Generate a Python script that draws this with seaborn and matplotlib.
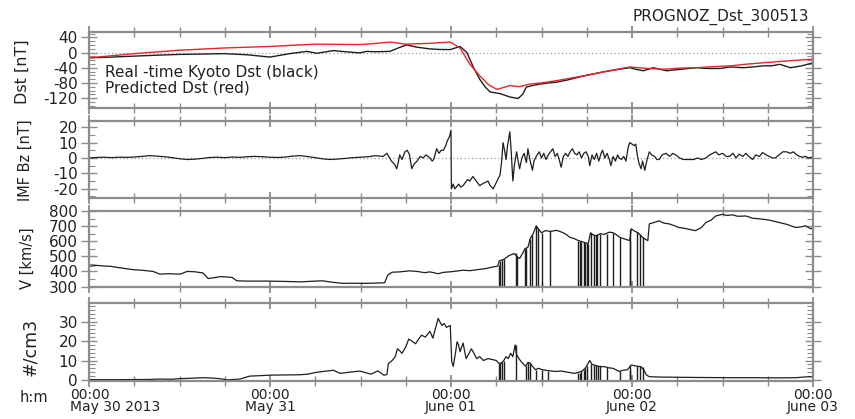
import numpy as np
import pandas as pd
import matplotlib
matplotlib.use("Agg")
import matplotlib.pyplot as plt
from matplotlib.ticker import MultipleLocator, FixedLocator
import matplotlib.transforms as mtransforms
import seaborn as sns

sns.set_style("ticks")
plt.rcParams['font.family'] = ['DejaVu Sans']
plt.rcParams['axes.unicode_minus'] = False

# ---------------- data (hours since 2013-05-30 00:00) ----------------
dst_obs_t = [0, 3, 6, 9, 12, 15, 18, 21, 24, 26.6, 28.9, 30.2, 32.4, 34, 35.9, 36.8, 38, 39.9, 41,
             42.1, 43.5, 45.2, 46.5, 47.9, 49.2, 50.1, 51, 51.8, 52.5, 53.2, 54.5, 55.8, 56.9, 57.5,
             58, 59, 59.8, 61, 62, 63.5, 65.1, 66.5, 68.2, 70, 71.7, 72.5, 73.5, 74.8, 76.6, 78.5,
             80.6, 82, 83.7, 85, 86.8, 88, 89.4, 90.5, 91.6, 93, 94.5, 96]
dst_obs = [-14, -12, -9.5, -7, -5, -4, -3, -6, -12, -3, 3, -2, 5, 2, -1, 3, 2, 3, 12,
           20, 14, 9.5, 8, 7.7, 16, 0, -40, -70, -90, -104, -108, -117, -121, -110,
           -91, -86, -83, -80, -78, -72, -64, -58, -51, -45, -40, -44, -48, -40, -48, -44,
           -40, -42, -42, -38, -40, -38, -35, -35, -31, -40, -35, -27]

dst_pred_t = [0, 6, 12, 18, 24, 30, 36, 38, 40, 42, 45, 47.9, 49.2, 50.5, 51.8, 53, 54.1, 55.8,
              57, 58.5, 60, 62, 65.1, 68.2, 71.7, 74, 76.2, 78.5, 80.6, 83, 85.1, 87, 89.4, 92,
              95.6, 96]
dst_pred = [-14, -3, 6, 12, 16, 22, 21, 24, 27.5, 22, 24, 27.5, 12, -31, -61, -85, -97, -87,
            -90, -83, -80, -74, -63, -51, -38, -42, -44, -41, -40, -37, -35, -31, -27, -23,
            -18, -17]

bz_t = [0, 1, 2, 3, 4, 5, 6, 7, 8, 9, 10, 11, 12, 13, 14, 15, 16, 17, 18, 19, 20, 21, 22, 23,
        24, 25, 26, 27, 28, 29, 30, 31, 32, 33, 34, 35, 36, 37, 38, 39,
        39.5, 40.1, 40.5, 40.8, 41.0, 41.2, 41.5, 41.9, 42.2, 42.5, 42.8, 43.1, 43.5, 43.9, 44.3,
        44.7, 45.2, 45.5, 45.7, 46.1, 46.4, 46.7, 47.0, 47.3, 47.5, 47.8, 48.0, 48.05, 48.3, 48.5,
        48.7, 49.0, 49.3, 49.6, 49.9, 50.2, 50.5, 50.9, 51.2, 51.5, 51.8, 52.1, 52.5, 52.9, 53.2,
        53.6, 53.9, 54.2, 54.5, 54.7, 54.9, 55.1, 55.3, 55.5, 55.8, 56.0, 56.2, 56.4, 56.7, 56.9,
        57.1, 57.4, 57.7, 58.0, 58.2, 58.5, 58.8, 59.0, 59.3, 59.7, 60.0, 60.3, 60.6, 60.9, 61.2,
        61.5, 61.8, 62.1, 62.4, 62.6, 62.9, 63.2, 63.5, 63.8, 64.1, 64.4, 64.7, 65.0, 65.3, 65.6,
        65.9, 66.2, 66.4, 66.7, 67.0, 67.3, 67.6, 67.9, 68.1, 68.4, 68.7, 69.0, 69.2, 69.5, 69.8,
        70.1, 70.3, 70.6, 70.9, 71.2, 71.5, 71.7, 72.0, 72.3, 72.5, 72.7, 72.9, 73.2, 73.4, 73.7,
        74.0, 74.3, 74.6, 75.0, 75.3, 75.6, 76.0, 76.5, 77.0, 77.4, 77.8, 78.3, 78.8, 79.2, 79.6,
        80.2, 80.7, 81.2, 81.8, 82.3, 82.7, 83.1, 83.5, 84.0, 84.5, 84.9, 85.4, 85.8, 86.2, 86.7,
        87.1, 87.5, 88.0, 88.4, 88.9, 89.3, 89.8, 90.2, 90.6, 91.0, 91.5, 92.0, 92.5, 93.0, 93.4,
        93.7, 94.2, 94.6, 95.0, 95.4, 95.7, 96]
bz = [0, 0.3, 0.5, 0.2, 0.5, 0.4, 0.6, 1.0, 1.5, 1.2, 0.8, 0.2, -0.5, -1.0, -0.8, -0.3, 0.3, 0.5,
      0.2, 0.6, 0.4, 0.8, 1.0, 0.8, 0.5, 0.3, 0.6, 1.2, 1.5, 0.9, 0.2, -0.6, -1.0, -0.7, -0.3,
      0.2, 0.5, 0.8, 1.5, 1.0,
      3, -2, -4, -7, -3, 2, -1, 4, 5, 2, -7, -4, -2, 1, 0,
      2, 0, -2, -1, 6, 3, 5, 5, 8, 11, 14, 18, -20, -17, -20,
      -19, -17, -19, -18, -16, -14, -15, -12, -14, -16, -18, -17, -16, -15, -18,
      -20, -17, -14, -11, -3, 10, 5, -1, 8, 17, 3, -15, -5, 4, -2,
      -7, 0, 3, -3, 6, -2, -8, -2, 1, 4, 0, 3, -1, 2, 4,
      6, 1, 3, -2, -6, 1, 3, 1, 4, 6, 3, 2, 4, 0, 3,
      4, 1, -5, 2, -1, 3, -2, 3, 5, 0, 3, -1, -5, 1, -2,
      2, 0, -1, 1, -2, 7, 10, 9, 8, 9, 2, -3, -7, -2, -8,
      -1, 4, 2, 1, -1, -1, 2, 3, 1, 3, 2, 0, -1, -1, -1,
      -1, 0, -1, 0, 2, 3, 4, 2, 3, 1, 1, 3, 0, 2.5, 1,
      3, 1, -1, 2, 1, 3.5, 2, 1, 0, 0, 2, 4, 4, 3, 4,
      2.5, 1, 0.5, 1, 0, 0.5, -0.5]

v_t = [0, 1, 2, 2.8, 4, 5.8, 7, 8.5, 9.4, 10.5, 12.1, 13, 14, 15.1, 15.8, 16.5, 17.5, 18.3, 19.0,
       19.6, 21, 23.6, 26, 28, 30, 31, 32, 33.7, 35, 36.8, 38, 39.2, 39.6, 40.2, 41.2, 42.5, 43.5,
       44.5, 45.2, 46.3, 47, 48, 49, 49.6, 50.5, 51.5, 52.5, 53.6, 54.2, 54.4, 55, 55.7, 56.4,
       56.8, 57.1, 57.5, 57.8, 58.2, 58.5, 58.9, 59.3, 59.6, 60.0, 60.5, 61.2, 62, 62.9, 63.4,
       63.8, 64.3, 64.9, 65.5, 66.2, 66.5, 66.9, 67.3, 67.8, 68.3, 69, 69.5, 70, 70.4, 71.0,
       71.7, 71.9, 72.4, 72.8, 73.4, 74.1, 74.3, 75, 75.6, 76.2, 76.9, 77.5, 78.2, 79, 80.4,
       81.2, 81.8, 82.5, 83.1, 84.0, 84.6, 85.3, 86, 87.1, 88, 89.3, 90.2, 91.5, 92.5, 93.7,
       94.4, 95, 95.7, 96]
v = [434, 440, 436, 434, 425, 412, 408, 400, 382, 385, 382, 400, 398, 390, 353, 358, 366, 363,
     360, 338, 336, 336, 334, 331, 336, 338, 330, 321, 322, 321, 323, 325, 375, 395, 397, 404,
     400, 392, 397, 385, 394, 398, 404, 408, 405, 412, 418, 430, 435, 470, 480, 505, 519, 495,
     486, 520, 550, 560, 617, 650, 702, 680, 656, 670, 665, 672, 656, 640, 625, 618, 604, 595,
     584, 656, 640, 637, 650, 645, 660, 656, 640, 625, 615, 604, 682, 665, 656, 625, 604, 715,
     725, 735, 720, 715, 705, 691, 685, 670, 690, 724, 740, 767, 778, 770, 775, 765, 767, 752,
     746, 740, 724, 712, 691, 695, 702, 682, 690]

v_drop_t = [54.3, 54.5, 54.7, 55.0, 56.6, 56.8, 57.8, 58.0, 58.5, 58.7, 59.3, 59.5, 60.0, 61.1,
            64.9, 65.1, 65.3, 65.6, 65.8, 66.0, 66.2, 66.6, 66.9, 67.2, 67.4, 67.8, 68.7, 69.5,
            70.4, 71.7, 71.8, 72.6, 73.1, 73.4]
v_drop_top = [440, 470, 475, 480, 520, 500, 550, 555, 617, 640, 702, 690, 656, 668, 604, 600,
              598, 592, 590, 588, 584, 656, 640, 638, 645, 650, 648, 656, 625, 604, 682, 660,
              650, 625]

n_t = [0, 4, 8, 9.4, 11, 12, 13.5, 15.1, 16.5, 17.5, 18.3, 19.2, 20, 21.3, 22.5, 24, 26, 28, 29,
       30.2, 31.5, 32.4, 33.3, 34.5, 35.9, 37.4, 38.3, 39.1, 39.5, 39.7, 40.2, 40.6, 40.9, 41.2,
       41.5, 42.0, 42.4, 42.8, 43.3, 43.7, 44.1, 44.6, 45.2, 45.6, 45.9, 46.3, 46.5, 46.8, 47.1,
       47.4, 47.9, 48.1, 48.3, 48.6, 48.8, 49.0, 49.2, 49.6, 50.0, 50.3, 50.7, 51.0, 51.4, 51.8,
       52.3, 52.9, 53.5, 54.0, 54.5, 55.0, 55.3, 55.6, 55.9, 56.2, 56.5, 56.7, 57.0, 57.4, 57.9,
       58.2, 58.5, 58.8, 59.2, 59.6, 60.1, 60.9, 61.8, 62.6, 63.5, 64.4, 65.3, 65.8, 66.4, 66.7,
       67.0, 67.6, 68.4, 69.0, 69.5, 70.3, 70.8, 71.4, 71.9, 72.5, 73.2, 73.6, 73.9, 74.3, 76,
       78.2, 81, 84.9, 88, 91, 93.7, 95.4, 96]
n = [0.2, 0.2, 0.3, 0.5, 0.4, 0.7, 0.9, 1.2, 1.0, 0.6, 0.1, 0.3, 0.5, 2.0, 2.2, 2.5, 2.6, 2.7,
     3.0, 4.0, 4.6, 5.0, 3.4, 4.0, 4.6, 3.0, 4.7, 2.5, 2.8, 8.5, 10, 12, 16, 15, 13.7, 17, 21,
     20, 18.6, 21, 23, 22, 25, 21.5, 26, 31.6, 30, 28, 29, 27, 28, 9.4, 7, 14, 19.6, 18, 14.5,
     19, 11, 13, 16, 14, 11, 12, 10, 11, 10.5, 10, 8, 10, 12, 11, 13.7, 12, 18, 13, 11, 9, 7,
     9, 8.7, 7, 5.3, 6, 5.3, 4.8, 4.4, 4.6, 4.0, 3.4, 4.4, 6, 10, 8, 7.7, 7, 6.8, 6.2, 6, 4.4,
     5, 5.3, 7.7, 7.2, 6.8, 5, 2.6, 1.7, 1.5, 1.4, 1.3, 1.2, 1.2, 1.1, 1.2, 1.7, 1.6]

n_drop_t = [54.3, 54.5, 54.7, 55.0, 56.6, 57.9, 58.2, 58.5, 59.3, 60.0, 60.9, 64.9, 65.1, 65.3,
            65.6, 65.8, 66.0, 66.6, 66.9, 67.2, 67.5, 67.8, 68.7, 70.4, 71.7, 71.8, 72.6, 73.1,
            73.4]
n_drop_top = [8, 9, 9.5, 10, 18, 7, 9, 8.7, 5.3, 5.3, 4.8, 3.6, 3.8, 4.4, 5, 6, 7, 8, 7.7, 7.5,
              7.2, 7, 6.8, 4.4, 5.3, 7.7, 7.2, 7, 6.8]

day_ticks = [0, 24, 48, 72, 96]
time_labels = ["00:00", "00:00", "00:00", "00:00", "00:00"]
date_labels = ["May 30 2013", "May 31", "June 01", "June 02", "June 03"]
panel_labels = ["Dst [nT]", "IMF Bz [nT]", "V [km/s]", "#/cm3"]
legend_lines = ["Real -time Kyoto Dst (black)", "Predicted Dst (red)"]
title = "PROGNOZ_Dst_300513"

# ---------------- figure ----------------
W_PX, H_PX = 855, 419
fig = plt.figure(figsize=(W_PX / 100, H_PX / 100), dpi=100)
L = 89 / W_PX
WID = (813 - 89) / W_PX


def mk(top, bottom):
    return fig.add_axes([L, 1 - bottom / H_PX, WID, (bottom - top) / H_PX])


def fy(px):
    return 1 - px / H_PX


ax1 = mk(32, 108)
ax2 = mk(121, 198)
ax3 = mk(211, 287)
ax4 = mk(303, 381)
axes = [ax1, ax2, ax3, ax4]

spine_col = "#8c8c8c"
line_col = "#1e1e1e"
red_col = "#e8232b"
txt_col = "#222222"
tick_fs = 11

ylims = [(-146, 54), (-26, 24), (297, 800), (-0.5, 39.5)]
ymaj = [FixedLocator([40, 0, -40, -80, -120]), MultipleLocator(10), MultipleLocator(100),
        MultipleLocator(10)]
ymin_loc = [MultipleLocator(10), MultipleLocator(5), MultipleLocator(50), MultipleLocator(2)]
xminor = [6, 6, 12, 6]

# ---- lines ----
ax1.axhline(0, color="#9a9a9a", lw=0.9, ls=(0, (1, 2)), zorder=1)
sns.lineplot(x=dst_obs_t, y=dst_obs, ax=ax1, color=line_col, lw=1.0, estimator=None, sort=False)
sns.lineplot(x=dst_pred_t, y=dst_pred, ax=ax1, color=red_col, lw=1.0, estimator=None, sort=False)

ax2.axhline(0, color="#9a9a9a", lw=0.9, ls=(0, (1, 2)), zorder=1)
sns.lineplot(x=bz_t, y=bz, ax=ax2, color=line_col, lw=0.9, estimator=None, sort=False)

sns.lineplot(x=v_t, y=v, ax=ax3, color=line_col, lw=0.9, estimator=None, sort=False)
ax3.vlines(v_drop_t, ylims[2][0], v_drop_top, color=line_col, lw=1.0)

sns.lineplot(x=n_t, y=n, ax=ax4, color=line_col, lw=0.9, estimator=None, sort=False)
ax4.vlines(n_drop_t, ylims[3][0], n_drop_top, color=line_col, lw=1.0)

# ---- axes styling ----
for i, ax in enumerate(axes):
    ax.set_facecolor("white")
    for s in ax.spines.values():
        s.set_visible(True)
        s.set_color(spine_col)
        s.set_linewidth(1.6)
    ax.set_xlim(0, 96)
    ax.set_ylim(*ylims[i])
    ax.xaxis.set_major_locator(FixedLocator(day_ticks))
    ax.xaxis.set_minor_locator(MultipleLocator(xminor[i]))
    ax.yaxis.set_major_locator(ymaj[i])
    ax.yaxis.set_minor_locator(ymin_loc[i])
    ax.tick_params(axis="x", which="both", direction="inout", top=True, bottom=True,
                   labelbottom=False, color=spine_col)
    ax.tick_params(axis="x", which="major", length=9, width=1.3)
    ax.tick_params(axis="x", which="minor", length=7, width=1.0)
    ax.tick_params(axis="y", which="both", left=True, right=True, color=spine_col,
                   labelsize=tick_fs, labelcolor=txt_col)
    ax.tick_params(axis="y", which="major", direction="inout", length=12, width=1.0, pad=2)
    ax.tick_params(axis="y", which="minor", direction="in", length=4, width=0.8)
    ax.set_xlabel("")
    ax.set_ylabel("")

# x tick labels (two lines: time and date) on the last panel
ax4.set_xticks(day_ticks)
ax4.set_xticklabels([f"{a}\n{b}" for a, b in zip(time_labels, date_labels)])
ax4.tick_params(axis="x", which="major", labelbottom=True, labelsize=10, pad=0.5,
                labelcolor=txt_col)
first = ax4.get_xticklabels()[0]
first.set_horizontalalignment("left")
first.set_multialignment("left")
first.set_transform(first.get_transform() +
                    mtransforms.ScaledTranslation(-19 / 100, 0, fig.dpi_scale_trans))
for lab in ax4.get_xticklabels():
    lab.set_linespacing(0.85)

fig.text(20 / W_PX, fy(397), "h:m", ha="left", va="center", fontsize=10.5, color=txt_col)

# legend text in panel 1
fig.text(105 / W_PX, fy(72), legend_lines[0], ha="left", va="center", fontsize=11,
         color=txt_col)
fig.text(105 / W_PX, fy(88), legend_lines[1], ha="left", va="center", fontsize=11,
         color=txt_col)

# title
fig.text(809 / W_PX, fy(17), title, ha="right", va="center", fontsize=11, color=txt_col)

# y-axis labels
ylab_pos = [(22, 72, 11.5), (25, 160, 10.5), (27, 258, 10.5), (30, 347, 12.5)]
for lab, (xp, yp, fs) in zip(panel_labels, ylab_pos):
    fig.text(xp / W_PX, fy(yp), lab, rotation=90, ha="center", va="center", fontsize=fs,
             color=txt_col)

fig.savefig("out.png", dpi=100, facecolor="white")
